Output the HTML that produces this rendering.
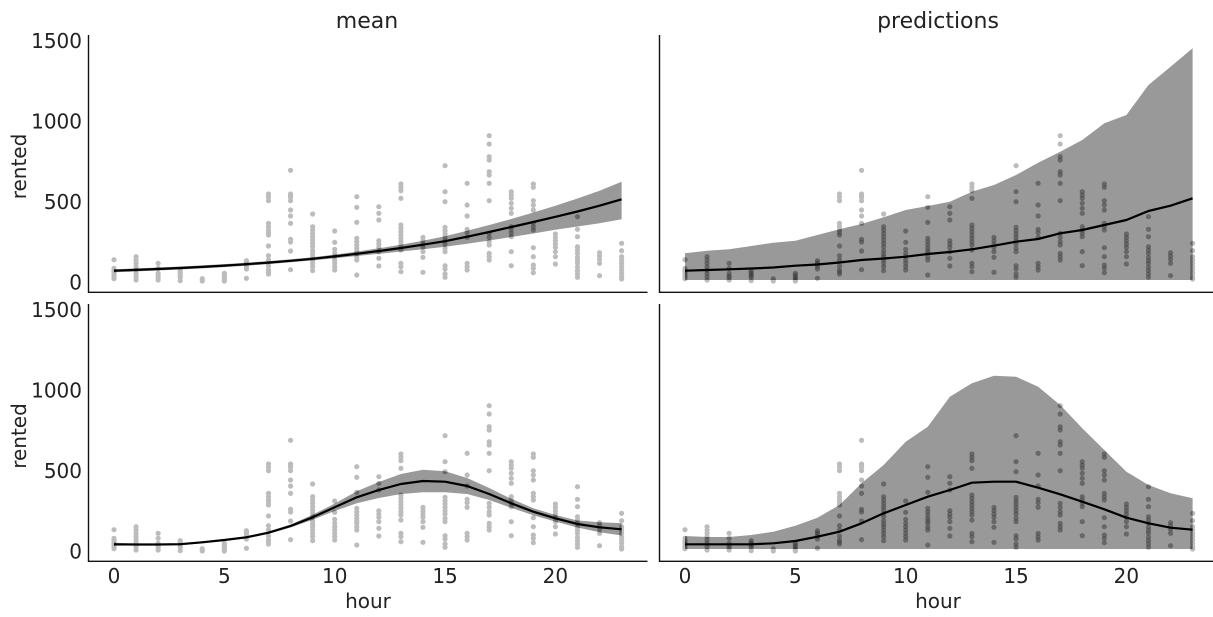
<!DOCTYPE html>
<html>
<head>
<meta charset="utf-8">
<style>
html,body{margin:0;padding:0;background:#fff;}
svg{display:block;}
text{font-family:"DejaVu Sans","Liberation Sans",sans-serif;fill:#222;}
</style>
</head>
<body>
<svg width="1213" height="617" viewBox="0 0 1213 617" xmlns="http://www.w3.org/2000/svg">
<defs>
<g id="d">
<g transform="translate(0,0)"><circle cy="-21.3" r="2.6"/><circle cy="-12.7" r="2.6"/><circle cy="-10.5" r="2.6"/><circle cy="-9.3" r="2.6"/><circle cy="-7.5" r="2.6"/><circle cy="-6" r="2.6"/><circle cy="-4" r="2.6"/><circle cy="-2.3" r="2.6"/></g>
<g transform="translate(22.07,0)"><circle cy="-24.3" r="2.6"/><circle cy="-21" r="2.6"/><circle cy="-17.7" r="2.6"/><circle cy="-14.3" r="2.6"/><circle cy="-11" r="2.6"/><circle cy="-7.7" r="2.6"/><circle cy="-4.3" r="2.6"/><circle cy="-1" r="2.6"/></g>
<g transform="translate(44.14,0)"><circle cy="-17.7" r="2.6"/><circle cy="-12.7" r="2.6"/><circle cy="-7.7" r="2.6"/><circle cy="-5" r="2.6"/><circle cy="-3.7" r="2.6"/><circle cy="-1" r="2.6"/></g>
<g transform="translate(66.21,0)"><circle cy="-10.3" r="2.6"/><circle cy="-8.5" r="2.6"/><circle cy="-7" r="2.6"/><circle cy="-5" r="2.6"/><circle cy="-3.7" r="2.6"/><circle cy="-0.3" r="2.6"/></g>
<g transform="translate(88.28,0)"><circle cy="-2.3" r="2.6"/><circle cy="0" r="2.6"/></g>
<g transform="translate(110.35,0)"><circle cy="-7.7" r="2.6"/><circle cy="-6" r="2.6"/><circle cy="-4.3" r="2.6"/><circle cy="-2.5" r="2.6"/><circle cy="-1" r="2.6"/><circle cy="0" r="2.6"/></g>
<g transform="translate(132.42,0)"><circle cy="-20.3" r="2.6"/><circle cy="-18.5" r="2.6"/><circle cy="-17" r="2.6"/><circle cy="-14.5" r="2.6"/><circle cy="-12" r="2.6"/><circle cy="-2.7" r="2.6"/></g>
<g transform="translate(154.49,0)"><circle cy="-87" r="2.6"/><circle cy="-84" r="2.6"/><circle cy="-80.3" r="2.6"/><circle cy="-57.7" r="2.6"/><circle cy="-54.3" r="2.6"/><circle cy="-51" r="2.6"/><circle cy="-48.5" r="2.6"/><circle cy="-46" r="2.6"/><circle cy="-35" r="2.6"/><circle cy="-25.3" r="2.6"/><circle cy="-21" r="2.6"/><circle cy="-15" r="2.6"/><circle cy="-11" r="2.6"/><circle cy="-9" r="2.6"/><circle cy="-7" r="2.6"/></g>
<g transform="translate(176.56,0)"><circle cy="-110.7" r="2.6"/><circle cy="-87" r="2.6"/><circle cy="-85.3" r="2.6"/><circle cy="-83.7" r="2.6"/><circle cy="-80.3" r="2.6"/><circle cy="-71" r="2.6"/><circle cy="-65" r="2.6"/><circle cy="-57.7" r="2.6"/><circle cy="-41.7" r="2.6"/><circle cy="-39" r="2.6"/><circle cy="-30" r="2.6"/><circle cy="-11.3" r="2.6"/></g>
<g transform="translate(198.63,0)"><circle cy="-67" r="2.6"/><circle cy="-54.3" r="2.6"/><circle cy="-51" r="2.6"/><circle cy="-47.7" r="2.6"/><circle cy="-44.3" r="2.6"/><circle cy="-41" r="2.6"/><circle cy="-37.7" r="2.6"/><circle cy="-34.3" r="2.6"/><circle cy="-30.3" r="2.6"/><circle cy="-27" r="2.6"/><circle cy="-24.3" r="2.6"/><circle cy="-21" r="2.6"/><circle cy="-17.7" r="2.6"/><circle cy="-14.3" r="2.6"/><circle cy="-10.3" r="2.6"/></g>
<g transform="translate(220.7,0)"><circle cy="-50" r="2.6"/><circle cy="-38.7" r="2.6"/><circle cy="-31.7" r="2.6"/><circle cy="-27.7" r="2.6"/><circle cy="-24.3" r="2.6"/><circle cy="-21" r="2.6"/><circle cy="-17.7" r="2.6"/><circle cy="-14.3" r="2.6"/><circle cy="-11" r="2.6"/></g>
<g transform="translate(242.77,0)"><circle cy="-84.3" r="2.6"/><circle cy="-73.7" r="2.6"/><circle cy="-58.7" r="2.6"/><circle cy="-42.7" r="2.6"/><circle cy="-39.3" r="2.6"/><circle cy="-36" r="2.6"/><circle cy="-32.7" r="2.6"/><circle cy="-30" r="2.6"/><circle cy="-27.7" r="2.6"/><circle cy="-24" r="2.6"/><circle cy="-21" r="2.6"/><circle cy="-6" r="2.6"/></g>
<g transform="translate(264.84,0)"><circle cy="-74.3" r="2.6"/><circle cy="-67.7" r="2.6"/><circle cy="-61" r="2.6"/><circle cy="-40.3" r="2.6"/><circle cy="-37" r="2.6"/><circle cy="-33.7" r="2.6"/><circle cy="-29.3" r="2.6"/><circle cy="-22.7" r="2.6"/><circle cy="-15" r="2.6"/></g>
<g transform="translate(286.91,0)"><circle cy="-97" r="2.6"/><circle cy="-93.7" r="2.6"/><circle cy="-90.3" r="2.6"/><circle cy="-82.7" r="2.6"/><circle cy="-56" r="2.6"/><circle cy="-52.7" r="2.6"/><circle cy="-49.3" r="2.6"/><circle cy="-46" r="2.6"/><circle cy="-42.7" r="2.6"/><circle cy="-39.3" r="2.6"/><circle cy="-36" r="2.6"/><circle cy="-31" r="2.6"/><circle cy="-17.7" r="2.6"/><circle cy="-14.3" r="2.6"/><circle cy="-9.3" r="2.6"/></g>
<g transform="translate(308.98,0)"><circle cy="-43.7" r="2.6"/><circle cy="-40.3" r="2.6"/><circle cy="-37" r="2.6"/><circle cy="-33.7" r="2.6"/><circle cy="-29.3" r="2.6"/><circle cy="-23.7" r="2.6"/><circle cy="-8.7" r="2.6"/></g>
<g transform="translate(331.05,0)"><circle cy="-115.3" r="2.6"/><circle cy="-89.3" r="2.6"/><circle cy="-79.3" r="2.6"/><circle cy="-53.7" r="2.6"/><circle cy="-50.3" r="2.6"/><circle cy="-47" r="2.6"/><circle cy="-43.7" r="2.6"/><circle cy="-40.3" r="2.6"/><circle cy="-37" r="2.6"/><circle cy="-32.7" r="2.6"/><circle cy="-29.3" r="2.6"/><circle cy="-15.3" r="2.6"/><circle cy="-12" r="2.6"/><circle cy="-7" r="2.6"/><circle cy="-3.7" r="2.6"/></g>
<g transform="translate(353.12,0)"><circle cy="-97.7" r="2.6"/><circle cy="-76" r="2.6"/><circle cy="-65" r="2.6"/><circle cy="-51.7" r="2.6"/><circle cy="-48.3" r="2.6"/><circle cy="-43.7" r="2.6"/><circle cy="-17.7" r="2.6"/><circle cy="-14.3" r="2.6"/><circle cy="-11" r="2.6"/></g>
<g transform="translate(375.19,0)"><circle cy="-145.3" r="2.6"/><circle cy="-137" r="2.6"/><circle cy="-124.3" r="2.6"/><circle cy="-121" r="2.6"/><circle cy="-109.3" r="2.6"/><circle cy="-106" r="2.6"/><circle cy="-97.7" r="2.6"/><circle cy="-80.3" r="2.6"/><circle cy="-47.7" r="2.6"/><circle cy="-43.7" r="2.6"/><circle cy="-39.3" r="2.6"/><circle cy="-36" r="2.6"/><circle cy="-27.7" r="2.6"/><circle cy="-24.3" r="2.6"/><circle cy="-21" r="2.6"/></g>
<g transform="translate(397.26,0)"><circle cy="-89.3" r="2.6"/><circle cy="-86" r="2.6"/><circle cy="-82.7" r="2.6"/><circle cy="-77.7" r="2.6"/><circle cy="-72.7" r="2.6"/><circle cy="-67.7" r="2.6"/><circle cy="-54.3" r="2.6"/><circle cy="-51" r="2.6"/><circle cy="-47.7" r="2.6"/><circle cy="-44.3" r="2.6"/><circle cy="-29.3" r="2.6"/><circle cy="-15.3" r="2.6"/></g>
<g transform="translate(419.33,0)"><circle cy="-97" r="2.6"/><circle cy="-93.7" r="2.6"/><circle cy="-80.3" r="2.6"/><circle cy="-76" r="2.6"/><circle cy="-71" r="2.6"/><circle cy="-57.7" r="2.6"/><circle cy="-54.3" r="2.6"/><circle cy="-51" r="2.6"/><circle cy="-33.3" r="2.6"/><circle cy="-24.3" r="2.6"/><circle cy="-16" r="2.6"/><circle cy="-12.7" r="2.6"/><circle cy="-8.3" r="2.6"/></g>
<g transform="translate(441.4,0)"><circle cy="-47" r="2.6"/><circle cy="-43.7" r="2.6"/><circle cy="-40.3" r="2.6"/><circle cy="-37" r="2.6"/><circle cy="-33.7" r="2.6"/><circle cy="-29.3" r="2.6"/><circle cy="-24.3" r="2.6"/><circle cy="-17" r="2.6"/></g>
<g transform="translate(463.47,0)"><circle cy="-64.3" r="2.6"/><circle cy="-51.7" r="2.6"/><circle cy="-44.3" r="2.6"/><circle cy="-34.3" r="2.6"/><circle cy="-31" r="2.6"/><circle cy="-27.7" r="2.6"/><circle cy="-23.7" r="2.6"/><circle cy="-20.5" r="2.6"/><circle cy="-17.7" r="2.6"/><circle cy="-13.7" r="2.6"/><circle cy="-10.3" r="2.6"/><circle cy="-7" r="2.6"/><circle cy="-3.7" r="2.6"/></g>
<g transform="translate(485.54,0)"><circle cy="-28.3" r="2.6"/><circle cy="-25" r="2.6"/><circle cy="-21.7" r="2.6"/><circle cy="-17.7" r="2.6"/><circle cy="-5.3" r="2.6"/></g>
<g transform="translate(507.61,0)"><circle cy="-37.7" r="2.6"/><circle cy="-30.3" r="2.6"/><circle cy="-24.3" r="2.6"/><circle cy="-21" r="2.6"/><circle cy="-17.7" r="2.6"/><circle cy="-14.3" r="2.6"/><circle cy="-11" r="2.6"/><circle cy="-7.7" r="2.6"/><circle cy="-4.3" r="2.6"/><circle cy="-2" r="2.6"/></g>
</g>
<path id="b1" d="M0,-11.8 L22.07,-12.6 L44.14,-13.5 L66.21,-14.5 L88.28,-15.6 L110.35,-16.9 L132.42,-18.3 L154.49,-19.9 L176.56,-21.7 L198.63,-23.8 L220.7,-26.4 L242.77,-29.4 L264.84,-32.7 L286.91,-36.3 L308.98,-40.3 L331.05,-44.8 L353.12,-50.3 L375.19,-56 L397.26,-62 L419.33,-68.5 L441.4,-75.2 L463.47,-82.5 L485.54,-90.3 L507.61,-99.3 L507.61,-61.7 L485.54,-57.8 L463.47,-54.5 L441.4,-51.2 L419.33,-47.5 L397.26,-44 L375.19,-40.5 L353.12,-37.3 L331.05,-34.3 L308.98,-31.8 L286.91,-29.5 L264.84,-27.2 L242.77,-25 L220.7,-22.8 L198.63,-20.6 L176.56,-18.7 L154.49,-16.9 L132.42,-15.3 L110.35,-13.9 L88.28,-12.6 L66.21,-11.5 L44.14,-10.5 L22.07,-9.6 L0,-8.8 Z"/>
<path id="b2" d="M0,-27.7 L22.07,-30.3 L44.14,-31.7 L66.21,-35 L88.28,-38.3 L110.35,-40.3 L132.42,-46 L154.49,-51.7 L176.56,-57 L198.63,-63.7 L220.7,-71 L242.77,-75 L264.84,-79.3 L286.91,-89.3 L308.98,-96 L331.05,-106 L353.12,-118.3 L375.19,-129.3 L397.26,-141 L419.33,-157.7 L441.4,-166 L463.47,-196 L485.54,-214.3 L507.61,-232.7 L507.61,-1 L0,-1 Z"/>
<path id="b3" d="M0,-8.2 L22.07,-7.5 L44.14,-7.5 L66.21,-7.8 L88.28,-9.7 L110.35,-12 L132.42,-14.7 L154.49,-19.5 L176.56,-26.5 L198.63,-36.2 L220.7,-47.4 L242.77,-59.7 L264.84,-69 L286.91,-77 L308.98,-81.3 L331.05,-79.8 L353.12,-73 L375.19,-63 L397.26,-52.2 L419.33,-42.8 L441.4,-36 L463.47,-30.5 L485.54,-28.7 L507.61,-27.9 L507.61,-15.5 L485.54,-18.7 L463.47,-23.5 L441.4,-29.4 L419.33,-35.8 L397.26,-43.2 L375.19,-51 L353.12,-57 L331.05,-58.8 L308.98,-58.7 L286.91,-57 L264.84,-53 L242.77,-47.7 L220.7,-40 L198.63,-31.2 L176.56,-23.5 L154.49,-17.1 L132.42,-12.7 L110.35,-10 L88.28,-7.7 L66.21,-5.8 L44.14,-5.5 L22.07,-5.5 L0,-5.2 Z"/>
<path id="b4" d="M0,-15 L22.07,-14 L44.14,-14 L66.21,-16 L88.28,-19.3 L110.35,-25.3 L132.42,-33.3 L154.49,-46 L176.56,-67.7 L198.63,-86 L220.7,-109.3 L242.77,-124.3 L264.84,-154.3 L286.91,-167.7 L308.98,-175.3 L331.05,-174.3 L353.12,-164.3 L375.19,-146 L397.26,-122.7 L419.33,-101 L441.4,-79.3 L463.47,-66 L485.54,-57.7 L507.61,-52.7 L507.61,-2 L0,-2 Z"/>
<clipPath id="k1"><use href="#b1"/></clipPath>
<clipPath id="k2"><use href="#b2"/></clipPath>
<clipPath id="k3"><use href="#b3"/></clipPath>
<clipPath id="k4"><use href="#b4"/></clipPath>
</defs>

<!-- Top-left: mean -->
<g transform="translate(114,281)">
<use href="#d" fill="#bcbcbc"/>
<use href="#b1" fill="#555555" fill-opacity="0.6"/>
<use href="#d" fill="#000" fill-opacity="0.18" clip-path="url(#k1)"/>
<path fill="none" stroke="#000" stroke-width="2.2" stroke-linejoin="round" d="M0,-10.3 L22.07,-11.1 L44.14,-12 L66.21,-13 L88.28,-14.1 L110.35,-15.4 L132.42,-16.8 L154.49,-18.4 L176.56,-20.2 L198.63,-22.2 L220.7,-24.6 L242.77,-27.2 L264.84,-30 L286.91,-33 L308.98,-36.3 L331.05,-39.8 L353.12,-44.3 L375.19,-49 L397.26,-54 L419.33,-59 L441.4,-64.2 L463.47,-69.5 L485.54,-75.3 L507.61,-81.7"/>
</g>

<!-- Top-right: predictions -->
<g transform="translate(685,281)">
<use href="#d" fill="#bcbcbc"/>
<use href="#b2" fill="#555555" fill-opacity="0.6"/>
<use href="#d" fill="#000" fill-opacity="0.18" clip-path="url(#k2)"/>
<path fill="none" stroke="#000" stroke-width="2.2" stroke-linejoin="round" d="M0,-10.3 L22.07,-11 L44.14,-11.7 L66.21,-12.5 L88.28,-13.5 L110.35,-15.3 L132.42,-16.5 L154.49,-18.5 L176.56,-21 L198.63,-22.5 L220.7,-24.3 L242.77,-27 L264.84,-29 L286.91,-31.7 L308.98,-35.3 L331.05,-39.3 L353.12,-42 L375.19,-47.7 L397.26,-51 L419.33,-56 L441.4,-61 L463.47,-70 L485.54,-75.3 L507.61,-82.7"/>
</g>

<!-- Bottom-left: mean -->
<g transform="translate(114,551)">
<use href="#d" fill="#bcbcbc"/>
<use href="#b3" fill="#555555" fill-opacity="0.6"/>
<use href="#d" fill="#000" fill-opacity="0.18" clip-path="url(#k3)"/>
<path fill="none" stroke="#000" stroke-width="2.2" stroke-linejoin="round" d="M0,-6.7 L22.07,-6.5 L44.14,-6.5 L66.21,-6.8 L88.28,-8.7 L110.35,-11 L132.42,-13.7 L154.49,-18.3 L176.56,-25 L198.63,-33.7 L220.7,-43.7 L242.77,-53.7 L264.84,-61 L286.91,-67 L308.98,-70 L331.05,-69.3 L353.12,-65 L375.19,-57 L397.26,-47.7 L419.33,-39.3 L441.4,-32.7 L463.47,-27 L485.54,-23.7 L507.61,-21.7"/>
</g>

<!-- Bottom-right: predictions -->
<g transform="translate(685,551)">
<use href="#d" fill="#bcbcbc"/>
<use href="#b4" fill="#555555" fill-opacity="0.6"/>
<use href="#d" fill="#000" fill-opacity="0.18" clip-path="url(#k4)"/>
<path fill="none" stroke="#000" stroke-width="2.2" stroke-linejoin="round" d="M0,-6.7 L22.07,-6.7 L44.14,-6.7 L66.21,-6.7 L88.28,-7.7 L110.35,-10 L132.42,-14.3 L154.49,-19.3 L176.56,-27.7 L198.63,-37.7 L220.7,-46 L242.77,-54.3 L264.84,-61 L286.91,-68.3 L308.98,-69.3 L331.05,-69.3 L353.12,-63.3 L375.19,-56.7 L397.26,-49.3 L419.33,-41.7 L441.4,-33.3 L463.47,-27.7 L485.54,-23.3 L507.61,-21.3"/>
</g>

<!-- Spines -->
<g stroke="#111" stroke-width="1.4" fill="none">
<path d="M88.5,35 V292.3 H647.5"/>
<path d="M659.5,35 V292.3 H1213"/>
<path d="M88.5,304 V561.3 H647.5"/>
<path d="M659.5,304 V561.3 H1213"/>
</g>

<!-- Titles -->
<text x="367" y="28" font-size="22" text-anchor="middle">mean</text>
<text x="938" y="28" font-size="22" text-anchor="middle">predictions</text>

<!-- Y tick labels -->
<g font-size="20" text-anchor="end">
<text x="82" y="48">1500</text>
<text x="82" y="128.5">1000</text>
<text x="82" y="209">500</text>
<text x="82" y="289.3">0</text>
<text x="82" y="317">1500</text>
<text x="82" y="397.5">1000</text>
<text x="82" y="478">500</text>
<text x="82" y="558.3">0</text>
</g>

<!-- Y labels -->
<text transform="translate(26,166.5) rotate(-90)" font-size="20" text-anchor="middle">rented</text>
<text transform="translate(26,436) rotate(-90)" font-size="20" text-anchor="middle">rented</text>

<!-- X tick labels -->
<g font-size="20" text-anchor="middle">
<text x="114" y="583">0</text>
<text x="224.35" y="583">5</text>
<text x="334.7" y="583">10</text>
<text x="445.05" y="583">15</text>
<text x="555.4" y="583">20</text>
<text x="685" y="583">0</text>
<text x="795.35" y="583">5</text>
<text x="905.7" y="583">10</text>
<text x="1016.05" y="583">15</text>
<text x="1126.4" y="583">20</text>
</g>

<!-- X labels -->
<text x="368" y="608" font-size="20" text-anchor="middle">hour</text>
<text x="938" y="608" font-size="20" text-anchor="middle">hour</text>
</svg>
</body>
</html>
